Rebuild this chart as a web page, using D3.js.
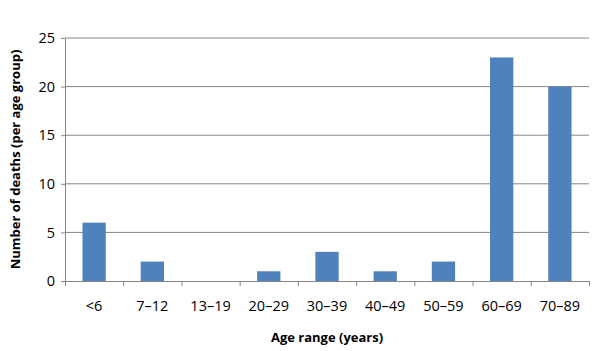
<!DOCTYPE html>
<html>
<head>
<meta charset="utf-8">
<script src="https://cdn.jsdelivr.net/npm/d3@7"></script>
<style>
  body { margin: 0; background: #fff; }
  text { font-family: "Open Sans", "Liberation Sans", sans-serif; fill: #000; }
</style>
</head>
<body>
<div id="chart"></div>
<script>
// données
const categories = ["<6", "7–12", "13–19", "20–29", "30–39", "40–49", "50–59", "60–69", "70–89"];
const deaths = [6, 2, 0, 1, 3, 1, 2, 23, 20];
const yTicks = [0, 5, 10, 15, 20, 25];

const margin = { top: 38, right: 11, bottom: 70, left: 65 },
    width = 600 - margin.left - margin.right,
    height = 351 - margin.top - margin.bottom;

const svg = d3.select("#chart")
    .append("svg")
    .attr("width", 600)
    .attr("height", 351)
    .append("g")
    .attr("transform", `translate(${margin.left}, ${margin.top})`);

const x = d3.scaleBand()
    .domain(categories)
    .range([0, width])
    .paddingInner(0.6)
    .paddingOuter(0.3);

// axe sur les limites des catégories
const xEdge = d3.scaleLinear()
    .domain([0, categories.length])
    .range([0, width]);

const y = d3.scaleLinear()
    .domain([0, 25])
    .range([height, 0]);

// grille
svg.append("g")
    .selectAll("line")
    .data(yTicks.slice(1))
    .join("line")
    .attr("x1", 0)
    .attr("x2", width)
    .attr("y1", d => y(d))
    .attr("y2", d => y(d))
    .attr("stroke", "#868686")
    .attr("stroke-width", 1);

// barres
svg.append("g")
    .selectAll("rect")
    .data(deaths)
    .join("rect")
    .attr("x", (d, i) => x(categories[i]))
    .attr("y", d => y(d))
    .attr("width", x.bandwidth())
    .attr("height", d => height - y(d))
    .attr("fill", "#4F81BD");

// axe Y
const yAxis = svg.append("g")
    .call(d3.axisLeft(y).tickValues(yTicks).tickSize(4).tickPadding(6));
yAxis.select(".domain").attr("stroke", "#868686");
yAxis.selectAll(".tick line").attr("stroke", "#868686");
yAxis.selectAll(".tick text").style("font-size", "14.5px");

// axe X
const xAxis = svg.append("g")
    .attr("transform", `translate(0, ${height})`)
    .call(d3.axisBottom(xEdge).tickValues(d3.range(categories.length + 1)).tickSize(5).tickFormat(""));
xAxis.select(".domain").attr("stroke", "#868686");
xAxis.selectAll(".tick line").attr("stroke", "#868686");

svg.append("g")
    .selectAll("text")
    .data(categories)
    .join("text")
    .attr("x", d => x(d) + x.bandwidth() / 2)
    .attr("y", height + 30)
    .attr("text-anchor", "middle")
    .style("font-size", "14.5px")
    .text(d => d);

// titres des axes
svg.append("text")
    .attr("x", x("30–39") + x.bandwidth() / 2)
    .attr("y", height + 61)
    .attr("text-anchor", "middle")
    .style("font-size", "13px")
    .style("font-weight", "bold")
    .text("Age range (years)");

svg.append("text")
    .attr("transform", `translate(${-margin.left + 20}, ${height / 2}) rotate(-90)`)
    .attr("text-anchor", "middle")
    .style("font-size", "13px")
    .style("font-weight", "bold")
    .text("Number of deaths (per age group)");
</script>
</body>
</html>
